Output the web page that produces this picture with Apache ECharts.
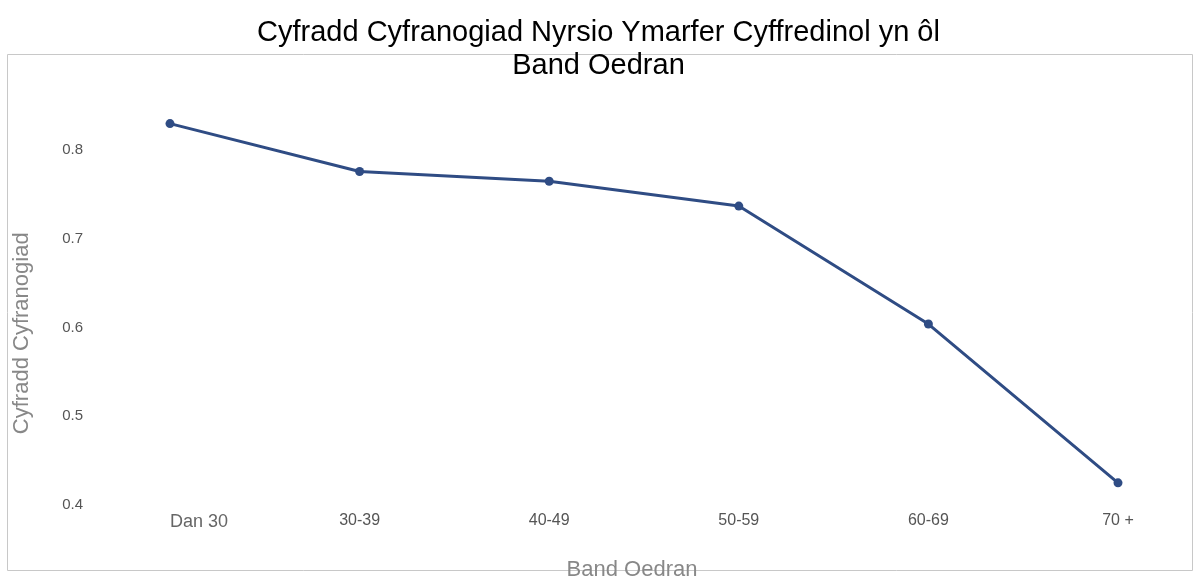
<!DOCTYPE html>
<html>
<head>
<meta charset="utf-8">
<script src="https://cdn.jsdelivr.net/npm/echarts@6/dist/echarts.min.js"></script>
<style>
  html, body { margin: 0; padding: 0; background: #fff; }
  #chart { width: 1197px; height: 579px; }
</style>
</head>
<body>
<div id="chart"></div>
<script>
// data
var titleText = 'Cyfradd Cyfranogiad Nyrsio Ymarfer Cyffredinol yn ôl\nBand Oedran';
var categories = ['Dan 30', '30-39', '40-49', '50-59', '60-69', '70 +'];
var rates = [0.830, 0.776, 0.765, 0.737, 0.604, 0.425];
var yMin = 0.4;
var yMax = 0.9;
var yStep = 0.1;

var chart = echarts.init(document.getElementById('chart'));

// first label is drawn bigger and left-aligned in the original
var catData = categories.map(function (c, i) {
    if (i == 0) {
        return { value: c, textStyle: { fontSize: 18, color: '#666', align: 'left' } };
    }
    return c;
});

var option = {
    animation: false,
    backgroundColor: '#fff',
    textStyle: {
        fontFamily: 'Liberation Sans, Arial, sans-serif'
    },
    title: {
        text: titleText,
        left: 'center',
        top: 11,
        textStyle: {
            color: '#000',
            fontSize: 29,
            fontWeight: 'normal',
            lineHeight: 33
        }
    },
    graphic: [{
        type: 'rect',
        shape: { x: 7.5, y: 54.5, width: 1185, height: 516 },
        style: { fill: 'none', stroke: '#c8c8c8', lineWidth: 1 },
        z: -1
    }],
    grid: {
        left: 170,
        right: 79,
        top: 61.5,
        bottom: 74,
        outerBoundsMode: 'none'
    },
    xAxis: {
        type: 'category',
        data: catData,
        boundaryGap: false,
        name: 'Band Oedran',
        nameLocation: 'middle',
        nameGap: 54,
        nameTextStyle: { color: '#888', fontSize: 22, padding: [0, 24, 0, 0] },
        axisLine: { show: false },
        axisTick: { show: false },
        axisLabel: { color: '#555', fontSize: 16, margin: 8 },
        splitLine: { show: false }
    },
    yAxis: {
        type: 'value',
        min: yMin,
        max: yMax,
        interval: yStep,
        name: 'Cyfradd Cyfranogiad',
        nameLocation: 'middle',
        nameGap: 137,
        nameTextStyle: { color: '#888', fontSize: 22, padding: [0, 100, 0, 0] },
        axisLine: { show: false },
        axisTick: { show: false },
        splitLine: { show: false },
        axisLabel: {
            color: '#555',
            fontSize: 15,
            margin: 87,
            showMaxLabel: false,
            formatter: function (v) { return v.toFixed(1); }
        }
    },
    series: [{
        type: 'line',
        data: rates,
        symbol: 'circle',
        symbolSize: 9,
        lineStyle: { color: '#2f4c84', width: 3 },
        itemStyle: { color: '#2f4c84' }
    }]
};

chart.setOption(option);
</script>
</body>
</html>
